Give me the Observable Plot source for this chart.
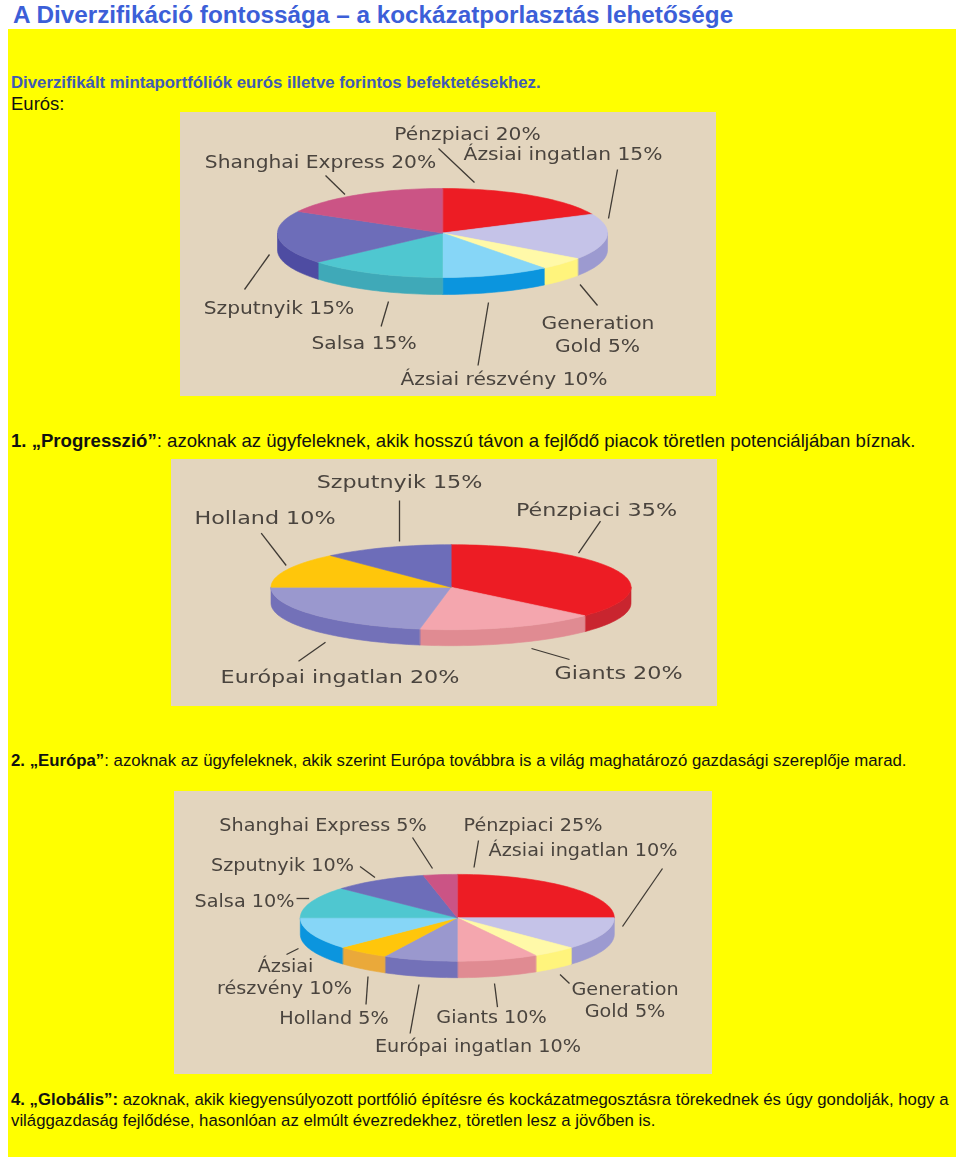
<!DOCTYPE html>
<html lang="hu">
<head>
<meta charset="utf-8">
<script src="https://cdn.jsdelivr.net/npm/d3@7"></script>
<script src="https://cdn.jsdelivr.net/npm/@observablehq/plot@0.6"></script>
<style>
html,body{margin:0;padding:0;background:#fff;}
body{position:relative;width:960px;height:1164px;overflow:hidden;font-family:"Liberation Sans",Arial,sans-serif;}
#panel{position:absolute;left:8px;top:29px;width:948px;height:1128px;background:#ffff00;}
.t{position:absolute;white-space:nowrap;font-size:16.75px;line-height:20px;color:#111;}
.chart{position:absolute;}
.chart svg{display:block;filter:blur(.4px);}
</style>
</head>
<body>
<div id="panel"></div>
<div class="t" style="left:13px;top:1px;font-size:24.3px;line-height:28px;font-weight:bold;color:#3c5fd8;">A Diverzifikáció fontossága – a kockázatporlasztás lehetősége</div>
<div class="t" style="left:11px;top:73px;color:#3f5bb4;font-weight:bold;font-size:16.8px;">Diverzifikált mintaportfóliók eurós illetve forintos befektetésekhez.</div>
<div class="t" style="left:11px;top:94px;font-size:18.5px;">Eurós:</div>
<div class="t" style="left:11px;top:431px;font-size:18.6px;"><b>1. „Progresszió</b><b>”</b>: azoknak az ügyfeleknek, akik hosszú távon a fejlődő piacok töretlen potenciáljában bíznak.</div>
<div class="t" style="left:11px;top:751px;font-size:16.8px;"><b>2. „Európa</b><b>”</b>: azoknak az ügyfeleknek, akik szerint Európa továbbra is a világ maghatározó gazdasági szereplője marad.</div>
<div class="t" style="left:11px;top:1090px;"><b>4. „Globális”:</b> azoknak, akik kiegyensúlyozott portfólió építésre és kockázatmegosztásra törekednek és úgy gondolják, hogy a</div>
<div class="t" style="left:11px;top:1111px;">világgazdaság fejlődése, hasonlóan az elmúlt évezredekhez, töretlen lesz a jövőben is.</div>
<script>
// Slice names, printed percentages, and the sweep (degrees) each slice occupies in the picture
const euroNames = ["Pénzpiaci","Ázsiai ingatlan","Generation Gold","Ázsiai részvény","Salsa","Szputnyik","Shanghai Express"];
const euroPercent = [20,15,5,10,15,15,20];
const euroSweep = [65,60,17,38,49,70,61];

const progNames = ["Pénzpiaci","Giants","Európai ingatlan","Holland","Szputnyik"];
const progPercent = [35,20,20,10,15];
const progSweep = [132,58,80,48,42];

const globNames = ["Pénzpiaci","Ázsiai ingatlan","Generation Gold","Giants","Európai ingatlan","Holland","Ázsiai részvény","Salsa","Szputnyik","Shanghai Express"];
const globPercent = [25,10,5,10,10,5,10,10,10,5];
const globSweep = [90,43.5,16.5,30,27.5,19.5,43,42.5,35,12.5];

// Fund colours: upper face and rim
const topColors = {"Pénzpiaci":"#ed1c24","Ázsiai ingatlan":"#c5c3e8","Generation Gold":"#fff9a8","Ázsiai részvény":"#86d6f7","Salsa":"#4fc7d0","Szputnyik":"#6d6db9","Shanghai Express":"#cb5485","Giants":"#f4a6ae","Európai ingatlan":"#9a98ce","Holland":"#ffc60b"};
const rimColors = {"Pénzpiaci":"#c9252f","Ázsiai ingatlan":"#9c9ad0","Generation Gold":"#fff47c","Ázsiai részvény":"#0b95de","Salsa":"#3fa9b8","Szputnyik":"#4e4ca2","Shanghai Express":"#a8446e","Giants":"#e08b92","Európai ingatlan":"#7371b8","Holland":"#eaa93a"};

// Layout of each figure (page coordinates)
const euroLayout = {box:[180,112,716,396],pie:[442,232.5,165,44.5,17],stretch:1.19};
const progLayout = {box:[171,459,717,706],pie:[450.5,586.7,180,42.5,16],stretch:1.31};
const globLayout = {box:[174,791,712,1074],pie:[456.8,917.3,157,43.4,16.5],stretch:1.13};

const euroLabels = [
 ["Pénzpiaci 20%",467,134],["Ázsiai ingatlan 15%",562.5,154],["Shanghai Express 20%",320,162],
 ["Szputnyik 15%",278.5,308],["Salsa 15%",363.5,343],["Generation",597.5,323],["Gold 5%",597,346],["Ázsiai részvény 10%",503.5,379]];
const euroLeaders = [[438,148,474,182],[617,169,608,218],[325,175,344.5,194],[269,254,244,289],[388,301,380.6,326],[488,302,477.5,365],[579.5,284,597,305]];

const progLabels = [
 ["Szputnyik 15%",399,482],["Holland 10%",264.5,518],["Pénzpiaci 35%",596,510],["Európai ingatlan 20%",339.5,677],["Giants 20%",618,673]];
const progLeaders = [[399,500,399,541],[260.7,532.7,285.7,565],[600,520.7,578,552.7],[325,641.7,298,660.7],[531,648,569,659]];

const globLabels = [
 ["Shanghai Express 5%",322.5,825],["Pénzpiaci 25%",532.5,825],["Ázsiai ingatlan 10%",582.5,850],["Szputnyik 10%",282,865],
 ["Salsa 10%",244,901],["Ázsiai",285,966],["részvény 10%",284,988],["Holland 5%",333.5,1018],["Giants 10%",491,1017],
 ["Generation",624.5,989],["Gold 5%",624.5,1011],["Európai ingatlan 10%",477.5,1046]];
const globLeaders = [[412,837,432,868],[478,840,473.5,867],[662,868,622,926],[359.5,866,374.5,877],[296,898,308.6,898],[286,954,298,948],[367.5,976,365.5,1004],[418.5,984,409.6,1033],[494,983,497,1006.7],[559.5,974,569,983]];

function pieFigure(names, sweep, labels, leaders, layout){
  const [x0,y0,x1,y1] = layout.box;
  const [cx,cy,rx,ry,depth] = layout.pie;
  const point = (a,dy=0)=>{const r=a*Math.PI/180;return [cx+rx*Math.sin(r),cy-ry*Math.cos(r)+dy];};
  const arc = (a0,a1,dy=0)=>{
    const steps=Math.max(2,Math.ceil((a1-a0)/2));
    return d3.range(steps+1).map(i=>point(a0+(a1-a0)*i/steps,dy));
  };
  const tops=[], sides=[];
  let start=0;
  names.forEach((name,i)=>{
    const end=start+sweep[i];
    [[cx,cy],...arc(start,end)].forEach(([x,y])=>tops.push({x,y,name,fill:topColors[name]}));
    const a0=Math.max(start,90), a1=Math.min(end,270);
    if(a1>a0){
      [...arc(a0,a1),...arc(a0,a1,depth).reverse()].forEach(([x,y])=>sides.push({x,y,name,fill:rimColors[name]}));
    }
    start=end;
  });
  const polygon = rows => Plot.line(rows,{x:"x",y:"y",z:"name",fill:"fill",stroke:"fill",strokeWidth:0.6,curve:"linear-closed"});
  return Plot.plot({
    width:x1-x0,height:y1-y0,margin:0,
    x:{axis:null,domain:[x0,x1],range:[0,x1-x0]},
    y:{axis:null,domain:[y0,y1],range:[0,y1-y0]},
    color:{type:"identity"},
    style:{background:"#e3d5be",overflow:"hidden"},
    marks:[
      polygon(sides),
      polygon(tops),
      Plot.link(leaders,{x1:d=>d[0],y1:d=>d[1],x2:d=>d[2],y2:d=>d[3],stroke:"#3f3a34",strokeWidth:1.3}),
      Plot.text(labels,{x:d=>d[1],y:d=>d[2],text:d=>d[0],textAnchor:"middle",lineAnchor:"middle",fontFamily:"'DejaVu Sans',sans-serif",fontSize:17,fill:"#4a443e"})
    ]
  });
}
function place(svg,layout){
  const d=document.createElement("div");d.className="chart";
  d.style.left=layout.box[0]+"px";d.style.top=layout.box[1]+"px";
  d.appendChild(svg);document.body.appendChild(d);
  // the source artwork's lettering is horizontally stretched
  svg.querySelectorAll("text").forEach(t=>{
    t.setAttribute("textLength",t.getComputedTextLength()*layout.stretch);
    t.setAttribute("lengthAdjust","spacingAndGlyphs");
  });
}
place(pieFigure(euroNames,euroSweep,euroLabels,euroLeaders,euroLayout),euroLayout);
place(pieFigure(progNames,progSweep,progLabels,progLeaders,progLayout),progLayout);
place(pieFigure(globNames,globSweep,globLabels,globLeaders,globLayout),globLayout);
</script>
</body>
</html>
